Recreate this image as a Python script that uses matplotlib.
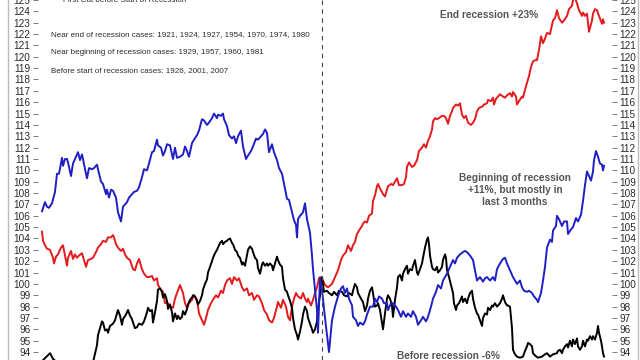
import matplotlib
matplotlib.use("Agg")
import matplotlib.pyplot as plt
from matplotlib.lines import Line2D

# stock index path around the first Fed cut, indexed to 100 at the cut
# (day offset from first cut, index level)
near_end = [
    (-280, 104.6), (-279, 103.8), (-277, 103.4), (-275, 103.1), (-272, 103.0), (-269, 102.3),
    (-268, 101.8), (-266, 102.4), (-264, 102.6), (-261, 103.2), (-259, 103.4), (-257, 102.5),
    (-255, 101.6), (-254, 102.3), (-251, 102.9), (-249, 102.2), (-247, 102.6), (-245, 102.3),
    (-243, 102.5), (-240, 102.7), (-238, 102.1), (-236, 101.5), (-234, 102.1), (-231, 102.2),
    (-229, 102.3), (-226, 102.8), (-224, 103.2), (-221, 103.5), (-219, 103.8), (-216, 103.7),
    (-214, 104.1), (-211, 104.1), (-209, 104.3), (-208, 104.1), (-206, 103.5), (-204, 103.2),
    (-201, 102.9), (-199, 103.1), (-197, 102.6), (-195, 102.3), (-192, 102.1), (-189, 101.3),
    (-187, 101.2), (-185, 101.8), (-183, 102.2), (-180, 101.3), (-178, 100.9), (-175, 100.6),
    (-173, 100.6), (-170, 100.7), (-168, 100.3), (-165, 100.5), (-164, 99.9), (-162, 99.6),
    (-159, 99.3), (-157, 98.3), (-155, 98.4), (-152, 98.0), (-149, 97.9), (-147, 98.7),
    (-145, 99.2), (-142, 99.9), (-139, 99.2), (-137, 98.3), (-135, 97.9), (-133, 98.3),
    (-130, 98.6), (-128, 99.0), (-125, 98.6), (-123, 97.4), (-120, 96.8), (-118, 96.4),
    (-116, 97.0), (-114, 97.7), (-111, 98.3), (-109, 98.6), (-106, 99.0), (-104, 98.8),
    (-101, 99.4), (-99, 99.2), (-97, 99.9), (-95, 100.3), (-92, 100.5), (-90, 100.0),
    (-88, 100.6), (-85, 100.3), (-83, 100.5), (-80, 99.7), (-78, 99.4), (-75, 99.6),
    (-73, 99.0), (-70, 99.2), (-68, 98.6), (-65, 99.0), (-63, 98.9), (-60, 98.3),
    (-58, 97.7), (-55, 97.3), (-53, 96.8), (-50, 96.6), (-48, 97.0), (-45, 98.0),
    (-44, 98.4), (-41, 97.9), (-39, 98.6), (-36, 98.0), (-34, 97.1), (-32, 96.8),
    (-30, 98.0), (-28, 98.7), (-26, 99.2), (-24, 98.9), (-21, 98.7), (-19, 99.2),
    (-17, 98.7), (-15, 98.4), (-14, 98.7), (-11, 98.1), (-9, 98.6), (-7, 99.2),
    (-5, 99.7), (-3, 100.5), (-2, 100.6), (1, 100.3), (3, 99.9), (6, 99.7),
    (10, 100.0), (13, 100.6), (16, 101.2), (19, 102.1), (21, 102.5), (24, 102.8),
    (26, 103.4), (29, 102.9), (31, 103.4), (33, 103.7), (35, 104.4), (37, 104.7),
    (40, 105.1), (41, 105.3), (43, 105.5), (45, 105.4), (47, 106.0), (50, 106.2),
    (51, 107.3), (53, 107.8), (55, 108.6), (56, 108.8), (58, 108.4), (60, 108.1),
    (61, 107.9), (63, 107.7), (65, 108.3), (66, 108.6), (69, 108.8), (71, 108.7),
    (73, 109.0), (75, 109.3), (77, 108.7), (80, 108.7), (82, 108.8), (84, 109.4),
    (85, 110.3), (87, 110.7), (90, 110.3), (92, 110.4), (95, 110.9), (97, 111.7),
    (100, 112.0), (102, 112.3), (104, 112.0), (106, 112.6), (108, 113.0), (110, 113.6),
    (111, 114.3), (113, 114.6), (115, 114.5), (117, 114.6), (120, 114.8), (122, 114.8),
    (124, 114.6), (126, 114.1), (128, 114.8), (130, 115.2), (131, 115.5), (134, 115.8),
    (136, 115.7), (138, 115.9), (140, 114.9), (142, 114.6), (144, 114.8), (146, 114.2),
    (149, 114.0), (151, 114.2), (153, 114.5), (155, 115.2), (157, 115.5), (160, 115.6),
    (162, 115.8), (165, 115.9), (166, 116.2), (169, 116.1), (171, 116.4), (172, 115.8),
    (174, 116.3), (176, 116.5), (178, 116.7), (181, 116.5), (183, 116.4), (185, 116.6),
    (188, 116.8), (190, 116.5), (191, 116.9), (194, 116.5), (195, 115.8), (197, 116.1),
    (200, 116.5), (201, 116.4), (203, 117.1), (205, 117.7), (207, 118.3), (209, 119.1),
    (211, 119.6), (213, 119.7), (215, 119.7), (217, 120.6), (219, 121.8), (221, 121.2),
    (223, 121.6), (225, 122.1), (228, 122.0), (231, 123.2), (233, 123.4), (235, 124.1),
    (237, 123.4), (240, 123.0), (242, 123.2), (245, 123.6), (247, 124.2), (250, 124.5),
    (251, 125.0), (253, 125.2), (255, 124.7), (257, 124.1), (260, 123.6), (261, 123.9),
    (263, 123.6), (265, 123.8), (267, 122.2), (270, 123.2), (271, 123.8), (273, 124.2),
    (275, 124.1), (277, 123.6), (280, 122.9), (281, 123.3), (282, 123.0),
]

near_beginning = [
    (-280, 106.4), (-277, 107.2), (-275, 106.8), (-273, 106.7), (-270, 107.1), (-267, 108.1),
    (-265, 109.7), (-263, 109.7), (-260, 111.1), (-259, 110.4), (-257, 111.0), (-255, 111.0),
    (-254, 110.7), (-251, 109.5), (-249, 110.6), (-246, 111.2), (-244, 111.6), (-242, 110.9),
    (-240, 111.4), (-239, 111.0), (-237, 110.1), (-235, 109.3), (-233, 110.2), (-230, 110.1),
    (-228, 110.2), (-225, 110.5), (-224, 110.1), (-221, 109.0), (-219, 108.8), (-216, 107.9),
    (-215, 108.3), (-213, 107.6), (-211, 108.3), (-209, 108.2), (-206, 107.6), (-204, 106.3),
    (-201, 105.5), (-199, 106.8), (-197, 107.0), (-195, 107.2), (-193, 107.6), (-190, 107.9),
    (-188, 108.1), (-185, 108.2), (-183, 108.5), (-180, 109.4), (-178, 110.1), (-175, 110.0),
    (-173, 110.6), (-170, 111.6), (-168, 111.7), (-165, 112.7), (-164, 112.2), (-161, 112.0),
    (-159, 111.3), (-157, 111.7), (-155, 112.3), (-152, 112.2), (-149, 111.0), (-147, 112.0),
    (-145, 111.1), (-142, 111.2), (-139, 111.4), (-137, 112.1), (-135, 111.7), (-133, 111.2),
    (-130, 112.4), (-128, 112.7), (-125, 113.1), (-123, 113.5), (-120, 114.5), (-118, 114.4),
    (-115, 114.0), (-113, 114.2), (-110, 114.6), (-108, 115.0), (-105, 114.6), (-104, 114.9),
    (-101, 114.8), (-99, 115.0), (-98, 114.5), (-95, 113.9), (-93, 113.1), (-90, 112.8),
    (-88, 113.0), (-86, 112.4), (-84, 113.0), (-81, 113.5), (-79, 112.1), (-76, 111.0),
    (-74, 111.3), (-71, 111.7), (-69, 112.1), (-66, 112.8), (-64, 112.7), (-61, 113.0),
    (-59, 113.2), (-57, 113.6), (-55, 113.3), (-53, 111.6), (-50, 112.3), (-48, 111.6),
    (-45, 110.9), (-43, 110.2), (-40, 109.7), (-38, 108.8), (-35, 107.5), (-33, 107.4),
    (-30, 106.3), (-28, 105.6), (-26, 105.2), (-25, 104.1), (-24, 105.7), (-22, 106.0),
    (-19, 106.3), (-17, 107.1), (-15, 105.7), (-12, 104.5), (-10, 102.5), (-9, 101.3),
    (-7, 99.5), (-5, 97.7), (-4, 95.7), (-2, 100.5), (0, 99.5), (3, 97.0),
    (7, 94.0), (10, 96.8), (13, 98.0), (16, 98.9), (19, 99.6), (21, 99.8),
    (23, 99.2), (25, 99.6), (27, 98.7), (30, 98.1), (31, 97.1), (34, 96.8),
    (36, 96.3), (38, 96.6), (41, 96.4), (43, 96.7), (45, 97.3), (48, 98.0),
    (51, 98.0), (53, 98.7), (55, 98.4), (57, 98.9), (60, 98.7), (62, 98.3),
    (65, 98.3), (66, 97.7), (69, 98.3), (71, 98.3), (74, 98.0), (76, 97.7),
    (79, 97.1), (81, 97.6), (84, 97.1), (86, 97.4), (89, 97.1), (91, 97.6),
    (94, 97.1), (96, 96.4), (99, 96.8), (101, 97.1), (104, 96.7), (106, 97.1),
    (109, 98.0), (111, 98.7), (114, 99.3), (116, 99.9), (119, 99.6), (121, 100.3),
    (123, 100.6), (125, 100.9), (128, 101.5), (131, 102.1), (133, 101.8), (135, 102.3),
    (138, 102.6), (141, 102.8), (143, 102.9), (145, 102.8), (148, 102.5), (151, 102.1),
    (153, 101.2), (155, 100.3), (158, 100.6), (161, 100.2), (163, 100.5), (165, 100.6),
    (168, 100.3), (171, 100.6), (173, 100.3), (175, 101.3), (178, 101.8), (181, 102.2),
    (183, 102.3), (185, 101.8), (188, 101.2), (191, 100.6), (193, 100.3), (195, 100.0),
    (198, 100.3), (200, 99.7), (202, 99.4), (205, 99.3), (207, 99.4), (210, 99.2),
    (212, 98.9), (215, 98.6), (216, 98.4), (219, 99.2), (221, 100.3), (223, 101.5),
    (225, 103.2), (228, 103.9), (230, 103.7), (231, 104.7), (234, 105.1), (235, 106.0),
    (237, 105.7), (240, 105.1), (242, 105.5), (245, 105.5), (246, 104.4), (249, 104.8),
    (251, 105.0), (254, 105.8), (256, 105.5), (259, 106.1), (261, 107.3), (263, 108.7),
    (265, 109.9), (266, 109.7), (269, 109.1), (271, 109.9), (272, 110.9), (274, 111.7),
    (276, 111.2), (278, 110.6), (280, 110.5), (281, 110.0), (282, 110.4),
]

before_start = [
    (-280, 93.2), (-272, 93.9), (-269, 93.4), (-264, 93.0), (-255, 92.8), (-245, 93.0),
    (-235, 92.9), (-229, 93.1), (-225, 94.6), (-224, 95.5), (-222, 96.1), (-220, 96.7),
    (-219, 96.6), (-217, 95.9), (-215, 96.0), (-214, 95.7), (-212, 96.3), (-209, 96.5),
    (-207, 96.8), (-205, 97.4), (-204, 97.7), (-202, 97.2), (-200, 96.4), (-199, 96.9),
    (-196, 97.3), (-194, 97.7), (-192, 97.2), (-190, 96.9), (-189, 96.6), (-187, 96.1),
    (-185, 96.2), (-183, 96.5), (-180, 96.4), (-178, 96.7), (-175, 97.5), (-174, 97.9),
    (-172, 97.6), (-170, 97.7), (-169, 96.6), (-167, 97.5), (-165, 98.5), (-164, 99.5),
    (-162, 99.6), (-160, 99.3), (-159, 98.8), (-157, 99.1), (-155, 98.5), (-154, 97.8),
    (-152, 98.2), (-150, 97.5), (-149, 96.7), (-147, 97.4), (-145, 96.9), (-144, 97.2),
    (-142, 96.9), (-140, 97.1), (-139, 97.6), (-137, 97.3), (-135, 97.8), (-134, 98.2),
    (-132, 98.6), (-130, 98.8), (-129, 99.0), (-127, 98.9), (-125, 98.5), (-124, 98.2),
    (-122, 98.5), (-120, 99.0), (-119, 99.5), (-117, 100.0), (-115, 100.4), (-114, 101.0),
    (-112, 101.5), (-110, 102.0), (-109, 102.3), (-107, 102.7), (-105, 103.0), (-104, 103.2),
    (-102, 103.6), (-100, 103.8), (-99, 103.5), (-97, 103.7), (-95, 103.8), (-94, 103.9),
    (-92, 104.0), (-90, 103.6), (-89, 103.5), (-87, 103.0), (-85, 102.8), (-84, 102.5),
    (-82, 102.3), (-80, 101.7), (-79, 101.9), (-77, 101.6), (-75, 102.5), (-74, 103.0),
    (-72, 103.3), (-70, 103.1), (-69, 102.8), (-67, 102.3), (-65, 102.1), (-64, 101.4),
    (-62, 100.9), (-60, 101.7), (-59, 101.9), (-57, 101.6), (-55, 101.8), (-54, 101.6),
    (-52, 101.8), (-50, 101.6), (-49, 101.2), (-47, 101.8), (-45, 102.4), (-44, 102.1),
    (-42, 101.7), (-40, 101.5), (-39, 100.5), (-37, 99.5), (-35, 99.3), (-34, 99.0),
    (-32, 98.5), (-30, 97.9), (-29, 97.0), (-27, 96.0), (-25, 95.5), (-24, 95.1),
    (-22, 95.8), (-20, 96.7), (-19, 97.3), (-17, 98.0), (-15, 97.6), (-14, 97.0),
    (-12, 96.5), (-10, 96.0), (-9, 95.7), (-7, 96.0), (-5, 96.7), (-4, 97.8),
    (-2, 99.0), (0, 100.6), (2, 99.3), (5, 99.4), (7, 99.2), (10, 99.0),
    (12, 99.3), (15, 99.0), (17, 99.4), (20, 99.3), (22, 99.0), (25, 98.9),
    (27, 99.2), (30, 99.0), (31, 99.4), (33, 100.0), (35, 99.7), (36, 99.2),
    (39, 98.7), (41, 98.4), (43, 97.6), (45, 98.1), (46, 98.7), (48, 99.4),
    (50, 99.7), (51, 99.2), (53, 98.0), (55, 98.1), (56, 98.3), (58, 97.7),
    (60, 96.6), (61, 96.0), (63, 97.4), (65, 98.7), (66, 99.0), (68, 98.7),
    (70, 98.1), (71, 97.1), (73, 98.6), (75, 99.7), (76, 100.6), (78, 100.8),
    (80, 100.3), (81, 100.9), (83, 101.3), (85, 101.6), (86, 100.9), (88, 101.3),
    (90, 101.2), (91, 101.6), (93, 102.1), (95, 101.0), (96, 100.8), (98, 101.3),
    (100, 101.8), (101, 102.3), (103, 103.2), (105, 103.9), (106, 104.1), (107, 103.5),
    (108, 102.5), (110, 101.5), (111, 101.3), (113, 101.2), (115, 101.5), (116, 101.0),
    (118, 101.2), (120, 101.5), (121, 102.1), (123, 102.6), (124, 102.3), (125, 101.2),
    (127, 100.6), (129, 99.9), (131, 99.2), (132, 98.3), (134, 97.7), (135, 98.1),
    (137, 98.3), (140, 98.9), (141, 98.4), (143, 98.7), (145, 98.3), (146, 98.7),
    (148, 99.2), (150, 99.4), (151, 98.7), (153, 97.9), (155, 97.4), (156, 97.3),
    (158, 96.8), (160, 96.3), (161, 97.0), (163, 97.4), (165, 97.3), (166, 97.9),
    (168, 97.7), (170, 98.1), (171, 98.0), (173, 98.3), (175, 98.0), (176, 98.1),
    (178, 98.3), (180, 98.7), (181, 99.0), (183, 98.4), (185, 98.1), (186, 98.1),
    (188, 98.0), (190, 96.1), (191, 94.2), (193, 93.8), (195, 93.6), (198, 93.5),
    (201, 93.6), (203, 94.1), (205, 94.5), (206, 94.8), (208, 94.7), (210, 94.5),
    (211, 93.9), (213, 93.7), (216, 93.5), (220, 93.6), (223, 93.8), (225, 93.9),
    (228, 93.6), (231, 93.8), (235, 93.9), (236, 94.1), (238, 94.2), (240, 93.9),
    (241, 94.2), (243, 94.5), (245, 94.7), (246, 94.4), (248, 95.0), (250, 94.5),
    (251, 95.1), (253, 94.7), (255, 95.2), (256, 94.5), (258, 94.2), (260, 94.5),
    (261, 95.0), (263, 94.5), (265, 95.1), (266, 95.0), (268, 95.4), (270, 95.1),
    (271, 95.4), (273, 95.1), (275, 95.7), (276, 96.3), (277, 95.7), (279, 95.0),
    (280, 94.5), (281, 93.9), (282, 93.6),
]

case_lines = [
    "Near end of recession cases: 1921, 1924, 1927, 1954, 1970, 1974, 1980",
    "Near beginning of recession cases: 1929, 1957, 1960, 1981",
    "Before start of recession cases: 1926, 2001, 2007",
]
case_y = [122.0, 120.38, 118.8]
yticks = list(range(94, 126))

RED = "#e41a1c"
BLUE = "#1f1fc4"
TXT = "#2a2a2a"
LBL = "#555555"
FONT = ["Liberation Sans Narrow", "Liberation Sans", "DejaVu Sans"]

plt.rcParams["font.family"] = FONT

fig = plt.figure(figsize=(6.4, 3.6), dpi=100)
ax = fig.add_axes([38 / 640, 0, 574 / 640, 1])

for data, col in [(near_end, RED), (before_start, "black"), (near_beginning, BLUE)]:
    xs = [d for d, v in data]
    ys = [v for d, v in data]
    ax.plot(xs, ys, color=col, lw=1.4, solid_joinstyle="round")

ax.axvline(0, color="#444444", lw=0.8, ls=(0, (4, 4)))

ax.set_xlim(-284, 290)
ax.set_ylim(93.3, 125.0)
ax.set_xticks([])
ax.set_yticks(yticks)
for s in ax.spines.values():
    s.set_visible(False)
ax.tick_params(axis="y", left=True, right=True, labelleft=True, labelright=True,
               direction="out", length=3.5, width=0.6, color="#666666",
               labelsize=7.2, labelcolor=TXT, pad=2)

# case notes, top left
ax.text(-259, 124.85, "First Cut before Start of Recession", fontsize=5.8,
        color=TXT, va="baseline", ha="left")
for txt, yv in zip(case_lines, case_y):
    ax.text(-271, yv, txt, fontsize=5.8, color=TXT, va="center", ha="left")

ax.text(118, 123.68, "End recession +23%", fontsize=7.3, fontweight="bold",
        color=LBL, va="center", ha="left")
ax.text(193, 108.27, "Beginning of recession\n+11%, but mostly in\nlast 3 months",
        fontsize=7.3, fontweight="bold", color=LBL, va="center", ha="center",
        linespacing=1.3)
ax.text(75, 93.65, "Before recession -6%", fontsize=7.3, fontweight="bold",
        color=LBL, va="center", ha="left")

# light frame at both sides
fig.add_artist(Line2D([7.5 / 640, 7.5 / 640], [0, 1], color="#bbbbbb", lw=1))
fig.add_artist(Line2D([637.5 / 640, 637.5 / 640], [0, 1], color="#bbbbbb", lw=1))

fig.savefig("out.png", dpi=100)
